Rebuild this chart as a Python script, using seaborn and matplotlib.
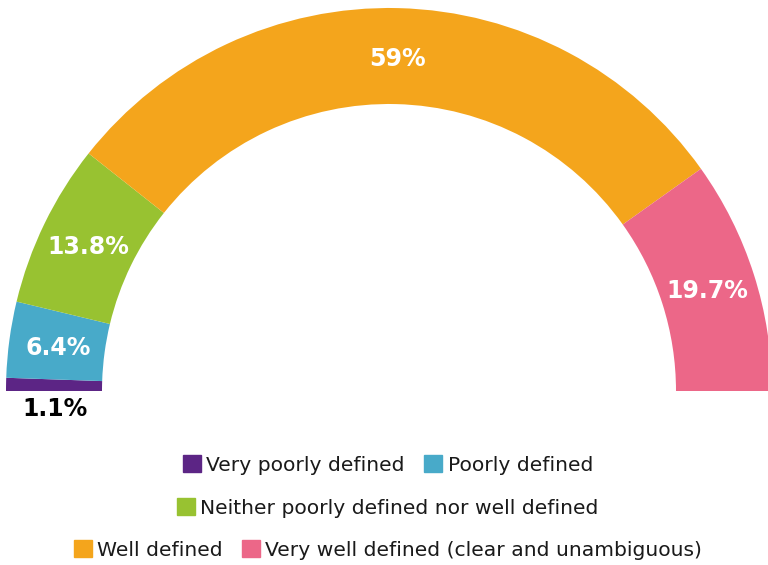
import numpy as np
import matplotlib
matplotlib.use("Agg")
import matplotlib.pyplot as plt
import seaborn as sns

categories = [
    "Very poorly defined",
    "Poorly defined",
    "Neither poorly defined nor well defined",
    "Well defined",
    "Very well defined (clear and unambiguous)",
]
values = [1.1, 6.4, 13.8, 59, 19.7]
labels = ["1.1%", "6.4%", "13.8%", "59%", "19.7%"]
colors = ["#5C2585", "#48AAC9", "#98C231", "#F4A51C", "#EC6788"]

sns.set_theme(style="white")
plt.rcParams["font.family"] = ["DejaVu Sans"]

W, H = 768, 565
fig = plt.figure(figsize=(W / 100, H / 100), dpi=100)
ax = fig.add_axes([0, 0, 1, 1])

# pixel-like data units: centre of the half ring sits at (0, 0)
cx, cy = 389, 391
R_out, R_in = 383, 287
# second half of the circle is an invisible filler slice
wedges, _ = ax.pie(
    values + [sum(values)],
    colors=colors + ["none"],
    startangle=180,
    counterclock=False,
    radius=R_out,
    wedgeprops=dict(width=R_out - R_in, linewidth=0),
    frame=True,
)
ax.set_xlim(-cx, W - cx)
ax.set_ylim(-(H - cy), cy)
ax.set_aspect("equal")
ax.axis("off")

r_lab = (R_out + R_in) / 2 - 1
for i, (w, lab) in enumerate(zip(wedges[:-1], labels)):
    mid = np.deg2rad((w.theta1 + w.theta2) / 2)
    x, y = r_lab * np.cos(mid), r_lab * np.sin(mid)
    if i == 0:
        ax.text(x, y - 24, lab, ha="center", va="center", color="black",
                fontsize=17, fontweight="bold")
    else:
        ax.text(x, y - 2, lab, ha="center", va="center", color="white",
                fontsize=17, fontweight="bold")

handles = [plt.Rectangle((0, 0), 1, 1, color=c) for c in colors]
rows = [([0, 1], 465), ([2], 508), ([3, 4], 550)]
leg_kw = dict(frameon=False, fontsize=14.6, handlelength=0.9, handleheight=0.9,
              handletextpad=0.25, columnspacing=0.95, borderaxespad=0, borderpad=0,
              loc="center")
for idx, ypix in rows:
    leg = fig.legend([handles[i] for i in idx], [categories[i] for i in idx],
                     ncol=len(idx), bbox_to_anchor=(388 / W, 1 - ypix / H),
                     **leg_kw)
    for t in leg.get_texts():
        t.set_color("#1a1a1a")

fig.savefig("out.png", dpi=100)
